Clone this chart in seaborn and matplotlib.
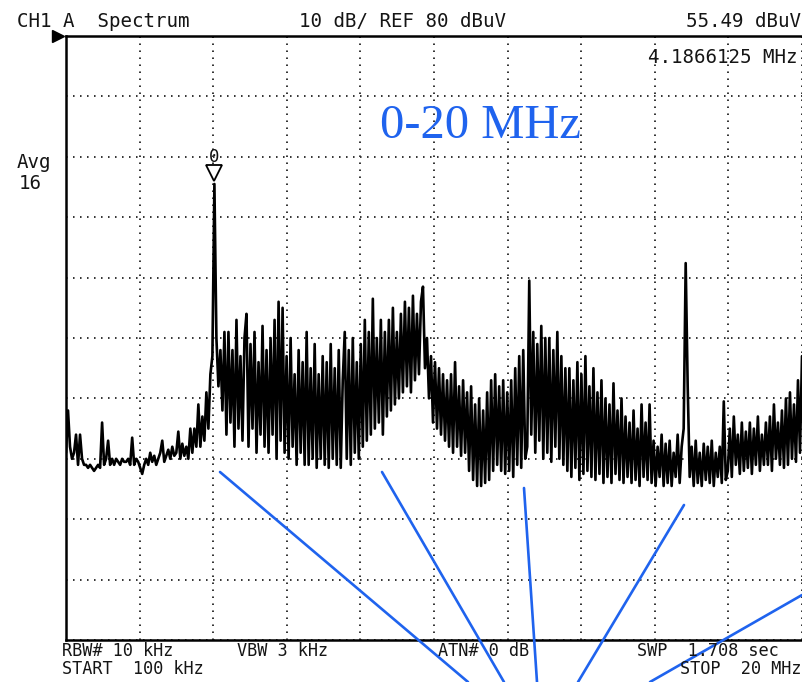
import numpy as np
import pandas as pd
import matplotlib
matplotlib.use("Agg")
import matplotlib.pyplot as plt
import seaborn as sns
from matplotlib.lines import Line2D

# ---------------- data ----------------
start_mhz = 0.1
stop_mhz = 20.0
ref_level = 80          # dBuV, top of screen
db_per_div = 10
marker_freq = 4.1866125  # MHz
marker_level = 55.49     # dBuV

# trace level in dBuV, uniform sweep from START to STOP
level_dbuv = [
    11, 18, 12, 10, 11, 14, 9, 14, 10, 9,
    9, 8.5, 9, 8.5, 8, 8.5, 9, 8.5, 16, 9,
    10, 13, 9, 10, 9, 10, 9.5, 9, 10, 9.5,
    9.5, 10, 9, 13.5, 9, 10, 9.5, 8.5, 7.5, 9,
    10, 9, 11, 9.5, 10.5, 9, 10, 11, 13, 9.5,
    10.5, 11.5, 10, 12, 10.5, 11, 14.5, 10, 12.5, 10.5,
    12, 10, 15, 11, 15, 12, 19, 12, 17, 13,
    21, 15, 24, 27, 55.5, 30, 22, 28, 18, 31,
    14, 31, 16, 28, 12, 33, 15, 27, 13, 30,
    34, 12, 29, 15, 31, 11, 26, 14, 32, 12,
    28, 11, 30, 14, 33, 10, 36, 13, 35, 11,
    27, 10, 30, 12, 24, 9, 28, 11, 26, 9,
    31, 9, 25, 10, 29, 8.5, 24, 10, 27, 9,
    26, 8.5, 29, 10, 25, 9, 28, 8.5, 23, 31,
    10, 28, 9, 30, 11, 26, 10, 29, 12, 33,
    13, 31, 14, 36.5, 15, 30, 16, 33, 14, 31,
    17, 33, 18, 35, 19, 31, 20, 34, 21, 36,
    22, 35, 21, 37, 23, 34, 24, 36, 38.5, 25,
    30, 20, 27, 16, 26, 15, 25, 14, 24, 13,
    23, 12, 24, 11, 26, 12, 22, 10.5, 23, 11,
    21, 8, 22, 6.5, 19, 5.5, 20, 5.5, 18, 6,
    21, 6.5, 23, 8, 24, 9, 22, 8, 23, 7.5,
    21, 8, 23, 7, 25, 9, 27, 8.5, 28, 10,
    12, 39.5, 14, 31, 11, 29, 13, 32, 10, 30,
    11, 30, 9.5, 28, 12, 31, 10, 27, 9, 25,
    8, 25, 7, 23, 8.5, 26, 6.5, 24, 7.5, 27,
    8, 22, 7, 25, 6.5, 21, 7.5, 23, 6, 20,
    7, 19, 6, 22.5, 7.5, 18, 6.5, 20, 6, 17,
    7, 16, 6, 18, 6.5, 15, 5.5, 19, 7, 16,
    6.5, 19, 6, 13, 5.5, 12, 7, 14, 5.5, 12.5,
    6, 13, 5.5, 11, 7, 14, 6, 12, 15, 42.4,
    22, 7, 12, 5.5, 13, 6, 11, 5.5, 12.5, 6.5,
    12, 6, 13, 5.5, 11, 7, 12, 6, 19.5, 6.5,
    8, 15, 7, 17, 9, 14, 7.5, 16, 8, 14.5,
    8.5, 16, 7.5, 15, 9, 17, 8, 14, 9, 16,
    9, 17, 8, 19, 10, 16, 9, 18, 8.5, 20,
    9, 21, 10, 19, 9.5, 23, 11, 27,
]

header_left = "CH1 A  Spectrum"
header_mid = "10 dB/ REF 80 dBuV"
header_right = "55.49 dBuV"
marker_text = "4.1866125 MHz"
avg_label = ["Avg", "16"]
footer_row1 = ["RBW# 10 kHz", "VBW 3 kHz", "ATN# 0 dB", "SWP  1.708 sec"]
footer_row2 = ["START  100 kHz", "STOP  20 MHz"]
band_label = "0-20 MHz"

# ---------------- figure ----------------
sns.set_theme(style="white")
plt.rcParams["font.family"] = ["DejaVu Sans Mono", "DejaVu Sans"]

W, H = 802, 682
fig = plt.figure(figsize=(W / 100, H / 100), dpi=100)
fig.patch.set_facecolor("white")

ax_left, ax_right, ax_top, ax_bot = 66, 802, 36, 640
ax = fig.add_axes([ax_left / W, 1 - ax_bot / H, (ax_right - ax_left) / W, (ax_bot - ax_top) / H])
ax.set_facecolor("white")

freq = np.linspace(start_mhz, stop_mhz, len(level_dbuv))
df = pd.DataFrame({"freq": freq, "level": level_dbuv})
sns.lineplot(data=df, x="freq", y="level", ax=ax, color="black", lw=1.9, sort=False, estimator=None)

bottom_level = ref_level - 10 * db_per_div
ax.set_xlim(start_mhz, stop_mhz)
ax.set_ylim(bottom_level, ref_level)
ax.set_xticks(np.linspace(start_mhz, stop_mhz, 11))
ax.set_yticks(np.arange(bottom_level, ref_level + 1, db_per_div))
ax.tick_params(length=0, labelbottom=False, labelleft=False)
ax.set_xlabel("")
ax.set_ylabel("")
ax.grid(True, color="#333333", ls=(0, (0.8, 2.8)), lw=1.4)
for side in ["left", "top", "bottom"]:
    ax.spines[side].set_color("black")
    ax.spines[side].set_linewidth(1.8)
ax.spines["right"].set_visible(False)

# marker
peak_idx = int(np.argmax(level_dbuv))
ax.plot([freq[peak_idx]], [57.4], marker="v", ms=11, mfc="white", mec="black", mew=1.3, clip_on=False)
ax.text(freq[peak_idx], 59.9, "0", ha="center", va="center", fontsize=12.5, color="#111111")

# reference level pointer
ax.plot([-0.011], [1.0], marker=">", ms=8, color="black", transform=ax.transAxes, clip_on=False)

# ---------------- texts ----------------
def ftext(x, y, s, ha="left", **kw):
    fig.text(x / W, 1 - y / H, s, ha=ha, va="baseline", **kw)

fs = 13.8
fs_foot = 12.2
tc = "#151515"
ftext(17, 27, header_left, fontsize=fs, color=tc)
ftext(299, 27, header_mid, fontsize=fs, color=tc)
ftext(801, 27, header_right, ha="right", fontsize=fs, color=tc)
ftext(798, 63, marker_text, ha="right", fontsize=fs, color=tc)
ftext(17, 168, avg_label[0], fontsize=fs, color=tc)
ftext(19, 189, avg_label[1], fontsize=fs, color=tc)
ftext(62, 656, footer_row1[0], fontsize=fs_foot, color=tc)
ftext(237, 656, footer_row1[1], fontsize=fs_foot, color=tc)
ftext(438, 656, footer_row1[2], fontsize=fs_foot, color=tc)
ftext(637, 656, footer_row1[3], fontsize=fs_foot, color=tc)
ftext(62, 674, footer_row2[0], fontsize=fs_foot, color=tc)
ftext(801, 674, footer_row2[1], ha="right", fontsize=fs_foot, color=tc)

blue = "#1f63ee"
fig.text(380 / W, 1 - 138 / H, band_label, ha="left", va="baseline",
         fontsize=35, color=blue, family=["Liberation Serif", "DejaVu Serif"])

# annotation rays (figure pixel coordinates)
rays = [((220, 472), (468, 682)),
        ((382, 472), (504, 682)),
        ((524, 488), (537, 682)),
        ((684, 505), (578, 682)),
        ((802, 595), (650, 682))]
for (x0, y0), (x1, y1) in rays:
    fig.add_artist(Line2D([x0 / W, x1 / W], [1 - y0 / H, 1 - y1 / H],
                          transform=fig.transFigure, color=blue, lw=1.9))

fig.savefig("out.png", dpi=100)
